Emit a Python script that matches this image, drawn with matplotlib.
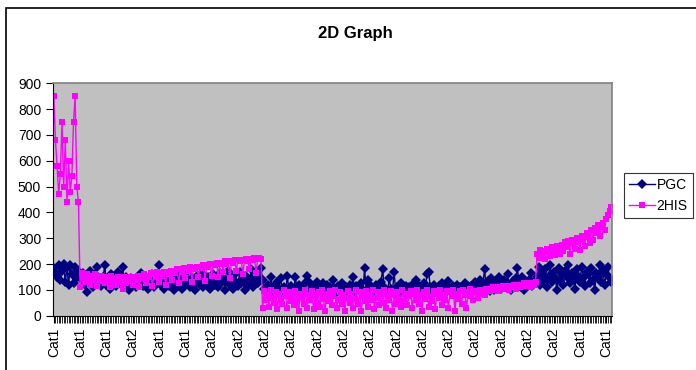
import matplotlib.pyplot as plt
from matplotlib.patches import Rectangle

# category labels shown on the x axis (every 16th category)
shown_labels = ["Cat1", "Cat1", "Cat1", "Cat2", "Cat1", "Cat1", "Cat2", "Cat2",
                "Cat2", "Cat2", "Cat2", "Cat2", "Cat2", "Cat2", "Cat2", "Cat2",
                "Cat2", "Cat2", "Cat2", "Cat2", "Cat1", "Cat1"]
label_step = 16

# PGC series
pgc_a = [185, 165, 150, 195, 140, 175, 200, 130, 185, 120, 195, 160, 125, 190, 150, 175]
pgc_b = [150, 140, 165, 120, 90, 130, 175, 145, 110, 160, 190, 125, 140, 115,
         150, 195, 120, 135, 105, 160, 130, 145, 115, 170, 125, 140, 190, 110, 150, 130, 100, 145,
         120, 140, 110, 150, 130, 165, 115, 135, 150, 105, 140, 125, 160, 110, 145, 130, 195, 120,
         140, 105, 150, 135, 115, 145,
         125, 100, 140, 160, 115, 135, 105, 150, 120, 170, 130, 110, 145, 125, 100, 155, 135, 120,
         165, 110, 140, 125, 150, 105, 135, 160, 120,
         140, 110, 165, 125, 150, 100, 135, 175, 120, 145, 105, 160, 130, 115, 170, 125, 140, 100,
         155, 135, 120, 180, 110, 145, 165, 125, 150, 185]
pgc_c = [140, 105, 90, 120, 100, 150, 95, 115, 85, 130, 105, 145, 95, 110, 90, 155, 100, 115,
         85, 105, 150, 95, 120, 100,
         110, 90, 125, 155, 130, 95, 115, 85, 105, 130, 95, 110, 90, 125, 100, 120, 85, 110, 95, 140,
         100, 90, 115, 105, 125, 85, 100, 110, 95, 120,
         100, 150, 90, 115, 105, 95, 125, 85, 185, 100, 140, 95, 115, 90, 105, 120, 100, 85, 130, 180,
         110, 100, 90, 145, 105, 95, 170, 85, 110, 100, 125, 90, 105, 115, 95,
         110, 95, 120, 100, 140, 90, 115, 105, 95, 125, 100, 160, 170, 110, 100, 120, 95, 105, 115, 90,
         125, 100, 110, 95, 135, 105, 90, 115, 100, 120, 95, 110, 105, 100, 125, 95, 115, 110]
pgc_d = [115, 100, 130, 95, 120, 140, 105, 125, 180, 110, 135, 95, 145, 120, 100, 130, 115, 150,
         105, 125, 140, 110, 160, 120, 100, 135, 115, 145, 185, 125, 110, 150, 100, 130, 120, 140,
         165, 115, 135, 125]
pgc_e = [150, 190, 120, 165, 140, 180, 110, 155, 195, 130, 170, 145, 100, 185, 135, 160, 120, 175,
         150, 195, 125, 165, 140, 105, 180, 155, 130, 190, 145, 115, 170, 160, 125, 185, 140, 100,
         165, 150, 195, 130, 175, 120, 160, 190, 145, 130]

# 2HIS series
his_a = [850, 680, 580, 470, 550, 750, 500, 680, 440, 600, 480, 540, 750, 850, 500, 440]
his_b = [110, 165, 150, 130, 160, 145, 120, 155, 140, 160, 115, 150, 135, 155,
         145, 125, 150, 140, 110, 155, 135, 145, 120, 150, 130, 140, 105, 150, 125, 145, 135, 150,
         120, 150, 140, 155, 110, 150, 145, 160, 125, 155, 150, 165, 115, 160, 150, 170, 130, 165,
         155, 170, 120, 170, 160, 175,
         140, 175, 165, 180, 125, 180, 170, 185, 145, 185, 175, 190, 130, 185, 180, 190, 150, 190,
         185, 195, 135, 195, 190, 200, 155, 200, 195,
         205, 150, 200, 205, 170, 210, 200, 210, 145, 210, 205, 215, 175, 215, 210, 215, 160, 215,
         220, 210, 180, 220, 215, 225, 165, 220, 225, 220]
his_c = [30, 95, 60, 80, 35, 100, 70, 50, 90, 25, 85, 65, 45, 100, 75, 30, 90, 55, 80, 40,
         95, 60, 20, 85,
         70, 45, 100, 30, 80, 60, 95, 25, 75, 50, 90, 35, 100, 65, 20, 85, 55, 95, 40, 75,
         100, 30, 60, 90, 45, 80, 20, 70, 95, 50,
         85, 30, 65, 100, 45, 90, 20, 75, 55, 95, 35, 80, 60, 100, 25, 70, 90, 40, 85, 50,
         100, 30, 75, 60, 95, 20, 80, 45, 90, 65, 35, 100, 55, 85, 40,
         75, 95, 30, 85, 60, 100, 45, 80, 20, 90, 65, 100, 35, 75, 55, 95, 25, 85, 70, 100,
         40, 80, 60, 95, 30, 90, 75, 100, 20, 85, 65, 95, 45, 100, 80, 30, 90, 105]
his_d = [75, 60, 90, 95, 70, 100, 85, 100, 80, 105, 105, 95, 105, 110, 100, 105, 110, 95, 110, 115,
         105, 110, 115, 100, 115, 110, 120, 105, 115, 120, 110, 120, 125, 115, 120, 125, 110, 125,
         120, 130]
his_e = [240, 225, 255, 235, 250, 220, 260, 245, 230, 265, 250, 235, 270, 255, 240,
         275, 250, 285, 265, 290, 240, 295, 280, 260, 300, 285, 255, 310, 295, 270, 320, 305, 280,
         330, 295, 340, 320, 350, 310, 345, 360, 330, 375, 390, 405, 420]

pgc = pgc_a + pgc_b + pgc_c + pgc_d + pgc_e
his = his_a + his_b + his_c + his_d + his_e
n = max(len(pgc), len(his))

plt.rcParams['font.family'] = ['Liberation Sans', 'DejaVu Sans']

fig = plt.figure(figsize=(6.96, 3.70), dpi=100)
ax = fig.add_axes([0.0761, 0.1468, 0.8032, 0.628])
ax.set_facecolor('#C0C0C0')

ax.plot(range(len(pgc)), pgc, color='#000080', lw=1, marker='D', ms=5,
        markeredgewidth=0, label='PGC')
ax.plot(range(len(his)), his, color='#FF00FF', lw=1, marker='s', ms=4.6,
        markeredgewidth=0, label='2HIS')

ax.set_xlim(-0.5, n - 0.5)
ax.set_ylim(0, 900)
ax.set_yticks(range(0, 901, 100))
ax.set_xticks([i * label_step for i in range(len(shown_labels))])
ax.set_xticklabels(shown_labels, rotation=90)
ax.set_xticks(range(n), minor=True)
ax.tick_params(axis='both', which='both', direction='out', length=5, width=0.8,
               colors='black', labelsize=10)
ax.tick_params(axis='x', which='minor', length=5, width=0.6)

for s in ['top', 'right']:
    ax.spines[s].set_color('#808080')
    ax.spines[s].set_linewidth(1.2)
for s in ['left', 'bottom']:
    ax.spines[s].set_color('black')

fig.text(0.51, 0.91, '2D Graph', ha='center', va='center', fontsize=12, fontweight='bold')

leg = fig.legend(loc='upper left', bbox_to_anchor=(624 / 696, 1 - 173 / 370),
                 fontsize=10, frameon=True, fancybox=False, edgecolor='black',
                 handlelength=1.9, handletextpad=0.1, borderpad=0.35, borderaxespad=0,
                 labelspacing=0.5)
leg.get_frame().set_linewidth(0.8)

fig.patches.append(Rectangle((6 / 696, -0.1), 1.2, 1.1 - 8 / 370, transform=fig.transFigure,
                             fill=False, edgecolor='black', lw=1.2))

fig.savefig('out.png', dpi=100)
